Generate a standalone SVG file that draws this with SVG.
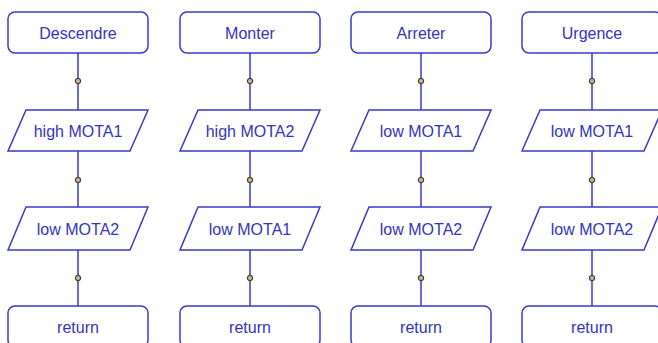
<svg xmlns="http://www.w3.org/2000/svg" width="658" height="343" viewBox="0 0 658 343">
<style>
.s{fill:#fff;stroke:#3a3ac8;stroke-width:1.5}
.c{stroke:#3a3ac8;stroke-width:1.5;fill:none}
.d{fill:#c9b99a;stroke:#4a3c2c;stroke-width:1.2}
.t{font-family:"Liberation Sans",Arial,sans-serif;font-size:16px;fill:#3434bc;text-anchor:middle}
</style>
<defs>
<rect id="box" x="-70" y="0" width="140" height="41" rx="7" ry="7"/>
<polygon id="par" points="-52,0 70,0 52,41 -70,41"/>
<polygon id="par2" points="-52,0 70,0 52,43 -70,43"/>
<circle id="dot" r="2.6"/>
</defs>
<g id="connectors">
<g transform="translate(78,0)"><line class="c" x1="0" y1="53" x2="0" y2="110"/><line class="c" x1="0" y1="151" x2="0" y2="207"/><line class="c" x1="0" y1="250" x2="0" y2="306"/><use href="#dot" class="d" y="81"/><use href="#dot" class="d" y="180"/><use href="#dot" class="d" y="278"/></g>
<g transform="translate(250,0)"><line class="c" x1="0" y1="53" x2="0" y2="110"/><line class="c" x1="0" y1="151" x2="0" y2="207"/><line class="c" x1="0" y1="250" x2="0" y2="306"/><use href="#dot" class="d" y="81"/><use href="#dot" class="d" y="180"/><use href="#dot" class="d" y="278"/></g>
<g transform="translate(421,0)"><line class="c" x1="0" y1="53" x2="0" y2="110"/><line class="c" x1="0" y1="151" x2="0" y2="207"/><line class="c" x1="0" y1="250" x2="0" y2="306"/><use href="#dot" class="d" y="81"/><use href="#dot" class="d" y="180"/><use href="#dot" class="d" y="278"/></g>
<g transform="translate(592,0)"><line class="c" x1="0" y1="53" x2="0" y2="110"/><line class="c" x1="0" y1="151" x2="0" y2="207"/><line class="c" x1="0" y1="250" x2="0" y2="306"/><use href="#dot" class="d" y="81"/><use href="#dot" class="d" y="180"/><use href="#dot" class="d" y="278"/></g>
</g>
<g id="descendre" transform="translate(78,12)"><use href="#box" class="s"/><text class="t" y="27">Descendre</text></g>
<g id="c1p1" transform="translate(78,110)"><use href="#par" class="s"/><text class="t" y="27">high MOTA1</text></g>
<g id="c1p2" transform="translate(78,207)"><use href="#par2" class="s"/><text class="t" y="28">low MOTA2</text></g>
<g id="c1r" transform="translate(78,306)"><use href="#box" class="s"/><text class="t" y="27">return</text></g>

<g id="monter" transform="translate(250,12)"><use href="#box" class="s"/><text class="t" y="27">Monter</text></g>
<g id="c2p1" transform="translate(250,110)"><use href="#par" class="s"/><text class="t" y="27">high MOTA2</text></g>
<g id="c2p2" transform="translate(250,207)"><use href="#par2" class="s"/><text class="t" y="28">low MOTA1</text></g>
<g id="c2r" transform="translate(250,306)"><use href="#box" class="s"/><text class="t" y="27">return</text></g>

<g id="arreter" transform="translate(421,12)"><use href="#box" class="s"/><text class="t" y="27">Arreter</text></g>
<g id="c3p1" transform="translate(421,110)"><use href="#par" class="s"/><text class="t" y="27">low MOTA1</text></g>
<g id="c3p2" transform="translate(421,207)"><use href="#par2" class="s"/><text class="t" y="28">low MOTA2</text></g>
<g id="c3r" transform="translate(421,306)"><use href="#box" class="s"/><text class="t" y="27">return</text></g>

<g id="urgence" transform="translate(592,12)"><use href="#box" class="s"/><text class="t" y="27">Urgence</text></g>
<g id="c4p1" transform="translate(592,110)"><use href="#par" class="s"/><text class="t" y="27">low MOTA1</text></g>
<g id="c4p2" transform="translate(592,207)"><use href="#par2" class="s"/><text class="t" y="28">low MOTA2</text></g>
<g id="c4r" transform="translate(592,306)"><use href="#box" class="s"/><text class="t" y="27">return</text></g>
</svg>
